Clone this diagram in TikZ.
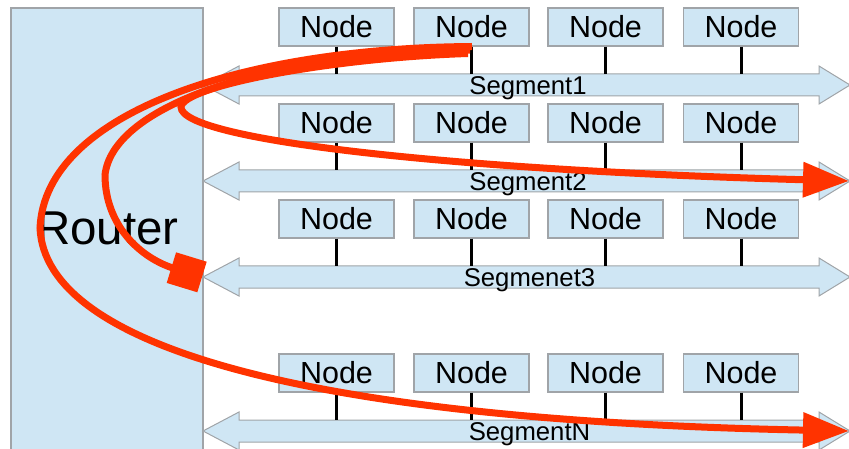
\documentclass[tikz,border=0pt]{standalone}
\usepackage{fontspec}
\setmainfont{Liberation Sans}
\usetikzlibrary{arrows.meta}
\definecolor{boxfill}{HTML}{CFE6F4}
\definecolor{boxline}{HTML}{A0A4A8}
\definecolor{flowred}{HTML}{FF3300}
\begin{document}
\begin{tikzpicture}[x=1pt,y=-1pt,
  nodebox/.style={draw=boxline,fill=boxfill,line width=1.2pt,minimum width=115pt,
    minimum height=38pt,inner sep=0pt,font=\fontsize{30.5}{36}\selectfont},
  routerbox/.style={draw=boxline,fill=boxfill,line width=1.2pt,minimum width=192pt,
    minimum height=452pt,inner sep=0pt},
  routertext/.style={inner sep=0pt,font=\fontsize{47.5}{52}\selectfont},
  segarrow/.style={draw=boxline,fill=boxfill,line width=1pt,line join=miter},
  seglabel/.style={inner sep=0pt,font=\fontsize{25.7}{30}\selectfont},
  stem/.style={draw=black,line width=3pt},
  flow/.style={draw=flowred,line width=7pt,line cap=butt},
  flowtip/.style={-{Triangle[length=46pt,width=34pt]}},
  flowsq/.style={-{Square[length=32pt,width=32pt]}}
]
\useasboundingbox (0,0) rectangle (849,449);

% router
\node[routerbox] (router) at (107,234) {};
\node[routertext] (routerlbl) at (107.5,228.5) {Router};

% segment arrows
\foreach \c/\n in {85/1,181/2,277/3,431/4}{
  \draw[segarrow] (203,\c) -- ++(36,-19) -- ++(0,8) -- ++(580,0) -- ++(0,-8)
    -- ++(31,19) -- ++(-31,19) -- ++(0,-8) -- ++(-580,0) -- ++(0,8) -- cycle;
  \coordinate (top\n) at (527,\c-11);
}

% nodes
\foreach \r/\y in {1/27,2/123,3/219,4/373}{
  \foreach \k/\x in {1/336.5,2/471.5,3/605.5,4/741}{
    \node[nodebox] (n\r\k) at (\x,\y) {Node};
    \draw[stem] (n\r\k.south) -- (n\r\k.south |- top\r);
  }
}

% segment labels
\node[seglabel,anchor=base] (lab1) at (528,94.5) {Segment1};
\node[seglabel,anchor=base] (lab2) at (528,190.5) {Segment2};
\node[seglabel,anchor=base] (lab3) at (529.5,286.5) {Segmenet3};
\node[seglabel,anchor=base] (lab4) at (529.5,440.5) {SegmentN};

% red flows
\coordinate (srcA) at (472,46.5);
\coordinate (srcC) at (470,50);
\coordinate (srcB) at (468,53.5);
\coordinate (tip2) at (849,181);
\coordinate (tip3) at (202,277);
\coordinate (tipN) at (849,431);

\draw[flow,flowtip,flowred] (srcA) .. controls (245,48) and (45,112) .. (40,228)
  .. controls (45,345) and (300,420) .. (tipN);
\draw[flow,flowsq,flowred] (srcC) .. controls (250,55) and (112,110) .. (105,175)
  .. controls (105,225) and (140,258) .. (tip3);
\draw[flow,flowtip,flowred] (srcB) .. controls (330,58) and (183,86) .. (181,107)
  .. controls (181,140) and (450,170) .. (tip2);
\end{tikzpicture}
\end{document}
